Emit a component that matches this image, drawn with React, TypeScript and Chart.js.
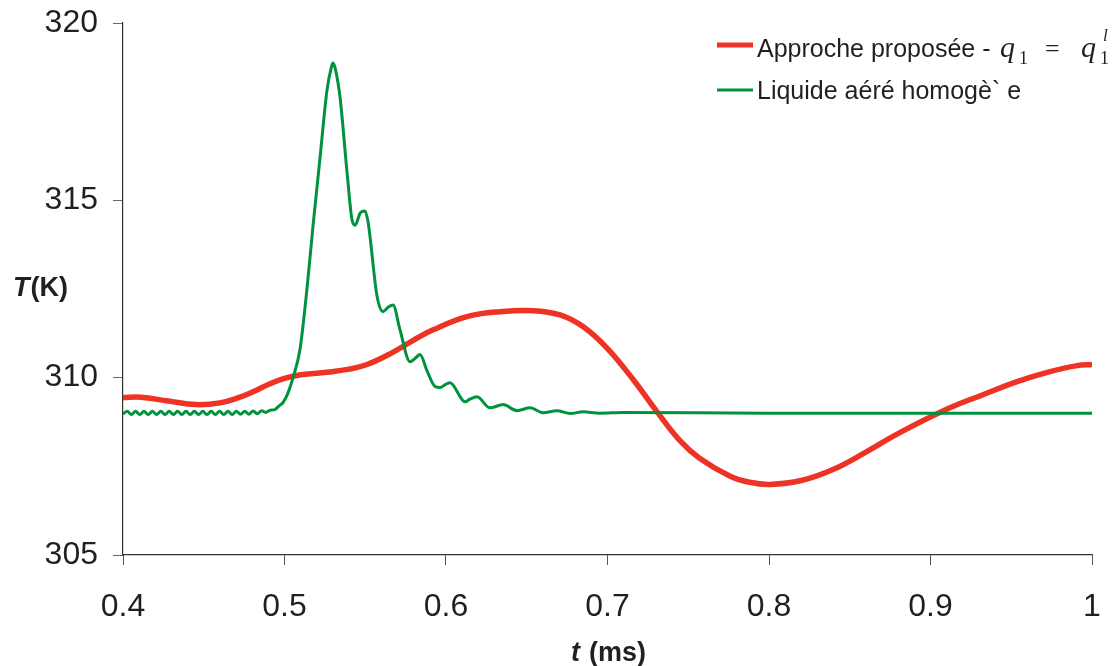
import React, { useEffect, useRef } from 'react';
import { Chart, registerables } from 'chart.js';

Chart.register(...registerables);

// ---- Data ----
const redTime = [
  0.4, 0.411, 0.428, 0.445, 0.46, 0.4724, 0.4805, 0.491, 0.5, 0.51,
  0.528, 0.54, 0.5511, 0.5653, 0.58, 0.592, 0.613, 0.6334, 0.6539, 0.6706,
  0.6848, 0.7, 0.716, 0.7313, 0.745, 0.757, 0.776, 0.788, 0.8006, 0.82,
  0.8396, 0.86, 0.881, 0.912, 0.9325, 0.9536, 0.974, 0.9907, 1.0,
];
const redTemp = [
  309.44, 309.45, 309.34, 309.24, 309.29, 309.45, 309.6, 309.83, 309.98, 310.08,
  310.16, 310.24, 310.37, 310.67, 311.06, 311.35, 311.72, 311.86, 311.89, 311.77,
  311.44, 310.82, 309.94, 309.0, 308.22, 307.73, 307.22, 307.05, 306.99, 307.1,
  307.41, 307.9, 308.45, 309.15, 309.52, 309.89, 310.17, 310.34, 310.37,
];

const greenTime = [
  0.4, 0.4026, 0.4052, 0.4078, 0.4104, 0.413, 0.4156, 0.4182, 0.4208, 0.4234,
  0.426, 0.4286, 0.4312, 0.4338, 0.4364, 0.439, 0.4416, 0.4442, 0.4468, 0.4494,
  0.452, 0.4546, 0.4572, 0.4598, 0.4624, 0.465, 0.4676, 0.4702, 0.4728, 0.4754,
  0.478, 0.4806, 0.4832, 0.4858, 0.4884, 0.491, 0.494, 0.4965, 0.4991, 0.502,
  0.5053, 0.5096, 0.5139, 0.5176, 0.522, 0.5263, 0.529, 0.53, 0.5315, 0.5344,
  0.5387, 0.5418, 0.5437, 0.547, 0.5498, 0.5517, 0.5573, 0.561, 0.564, 0.5672,
  0.5715, 0.5777, 0.581, 0.5839, 0.5882, 0.5932, 0.5963, 0.6, 0.6025, 0.6118,
  0.615, 0.6192, 0.6272, 0.6353, 0.644, 0.652, 0.6601, 0.6687, 0.677, 0.685,
  0.695, 0.71, 0.8, 0.9, 1.0,
];
const greenTemp = [
  308.98, 309.05, 308.96, 309.05, 308.96, 309.05, 308.96, 309.05, 308.96, 309.05,
  308.96, 309.05, 308.96, 309.05, 308.96, 309.05, 308.96, 309.05, 308.96, 309.05,
  308.96, 309.05, 308.96, 309.05, 308.96, 309.05, 308.96, 309.05, 308.97, 309.05,
  308.97, 309.06, 308.98, 309.07, 309.02, 309.08, 309.1, 309.2, 309.3, 309.55,
  310.0, 310.8, 312.5, 314.25, 316.2, 318.1, 318.75, 318.87, 318.7, 317.9,
  315.8, 314.45, 314.3, 314.65, 314.7, 314.4, 312.3, 311.86, 311.98, 312.05,
  311.35, 310.45, 310.55, 310.65, 310.2, 309.75, 309.72, 309.82, 309.86, 309.32,
  309.4, 309.46, 309.15, 309.24, 309.07, 309.15, 309.01, 309.07, 308.99, 309.04,
  309.0, 309.02, 309.0, 309.0, 309.0,
];

const xTickValues = [0.4, 0.5, 0.6, 0.7, 0.8, 0.9, 1];
const xTickLabels = ['0.4', '0.5', '0.6', '0.7', '0.8', '0.9', '1'];
const yTickValues = [305, 310, 315, 320];
const yTickLabels = ['305', '310', '315', '320'];
const seriesNames = ['Approche proposée - ', 'Liquide aéré homogè` e'];

const RED = 'rgb(238,50,36)';
const GREEN = 'rgb(0,146,63)';
const TEXT = '#231f20';
const SANS = '"Liberation Sans", Arial, sans-serif';
const SERIF = '"Liberation Serif", "Times New Roman", serif';

const decorPlugin = {
  id: 'decor',
  afterDraw(chart: any) {
    const ctx = chart.ctx as CanvasRenderingContext2D;
    ctx.save();
    // Legend
    ctx.lineCap = 'butt';
    ctx.strokeStyle = RED;
    ctx.lineWidth = 5;
    ctx.beginPath();
    ctx.moveTo(717, 45);
    ctx.lineTo(753, 45);
    ctx.stroke();
    ctx.strokeStyle = GREEN;
    ctx.lineWidth = 3;
    ctx.beginPath();
    ctx.moveTo(717, 90);
    ctx.lineTo(753, 90);
    ctx.stroke();

    ctx.fillStyle = TEXT;
    ctx.textBaseline = 'alphabetic';
    ctx.textAlign = 'left';
    ctx.font = `25px ${SANS}`;
    ctx.fillText(seriesNames[0], 757, 57);
    ctx.fillText(seriesNames[1], 757, 99);

    // math part: q_1 = q_1^l
    ctx.font = `italic 30px ${SERIF}`;
    ctx.fillText('q', 1000, 57);
    ctx.font = `18px ${SERIF}`;
    ctx.fillText('1', 1019, 64);
    ctx.font = `26px ${SERIF}`;
    ctx.fillText('=', 1045, 57);
    ctx.font = `italic 30px ${SERIF}`;
    ctx.fillText('q', 1081, 57);
    ctx.font = `18px ${SERIF}`;
    ctx.fillText('1', 1100, 64);
    ctx.font = `italic 17px ${SERIF}`;
    ctx.fillText('l', 1103, 41);

    // Y axis title: T(K)
    ctx.font = `italic bold 27px ${SANS}`;
    ctx.fillText('T', 13, 296);
    const wT = ctx.measureText('T').width;
    ctx.font = `bold 27px ${SANS}`;
    ctx.fillText('(K)', 13 + wT + 1, 296);

    // X axis title: t (ms)
    ctx.font = `italic bold 27px ${SANS}`;
    ctx.fillText('t', 571, 661);
    ctx.font = `bold 27px ${SANS}`;
    ctx.fillText('(ms)', 589, 661);
    ctx.restore();
  },
};

export default function App() {
  const canvasRef = useRef<HTMLCanvasElement | null>(null);

  useEffect(() => {
    const canvas = canvasRef.current;
    if (!canvas) return;
    const chart = new Chart(canvas, {
      type: 'line',
      data: {
        datasets: [
          {
            label: seriesNames[0],
            data: redTime.map((t, i) => ({ x: t, y: redTemp[i] })),
            borderColor: RED,
            backgroundColor: RED,
            borderWidth: 5.5,
            pointRadius: 0,
            tension: 0.4,
            order: 2,
          },
          {
            label: seriesNames[1],
            data: greenTime.map((t, i) => ({ x: t, y: greenTemp[i] })),
            borderColor: GREEN,
            backgroundColor: GREEN,
            borderWidth: 3,
            pointRadius: 0,
            cubicInterpolationMode: 'monotone',
            order: 1,
          },
        ],
      },
      options: {
        animation: false,
        responsive: true,
        maintainAspectRatio: false,
        layout: { padding: { left: 0, right: 21, top: 23, bottom: 0 } },
        plugins: {
          legend: { display: false },
          tooltip: { enabled: false },
          title: { display: false },
        },
        scales: {
          x: {
            type: 'linear',
            min: 0.4,
            max: 1,
            afterBuildTicks: (s: any) => {
              s.ticks = xTickValues.map((v) => ({ value: v }));
            },
            afterFit: (s: any) => {
              s.height = 111;
              s.paddingLeft = 0;
              s.paddingRight = 0;
            },
            ticks: {
              callback: (_v: any, i: number) => xTickLabels[i],
              font: { family: SANS, size: 32 },
              color: TEXT,
              padding: 23,
              maxRotation: 0,
              autoSkip: false,
            },
            grid: {
              display: true,
              drawOnChartArea: false,
              drawTicks: true,
              tickLength: 10,
              color: '#555',
              lineWidth: 1,
            },
            border: { display: true, color: '#333', width: 1.2 },
          },
          y: {
            type: 'linear',
            min: 305,
            max: 320,
            afterBuildTicks: (s: any) => {
              s.ticks = yTickValues.map((v) => ({ value: v }));
            },
            afterFit: (s: any) => {
              s.width = 123;
              s.paddingTop = 0;
              s.paddingBottom = 0;
            },
            ticks: {
              callback: (_v: any, i: number) => yTickLabels[i],
              font: { family: SANS, size: 32 },
              color: TEXT,
              padding: 15,
              autoSkip: false,
            },
            grid: {
              display: true,
              drawOnChartArea: false,
              drawTicks: true,
              tickLength: 10,
              color: '#666',
              lineWidth: 1,
            },
            border: { display: true, color: '#333', width: 1.2 },
          },
        },
      },
      plugins: [decorPlugin],
    });
    return () => chart.destroy();
  }, []);

  return (
    <div
      style={{
        position: 'fixed',
        left: 0,
        top: 0,
        width: '1113px',
        height: '666px',
        background: '#fff',
      }}
    >
      <canvas ref={canvasRef} />
    </div>
  );
}
